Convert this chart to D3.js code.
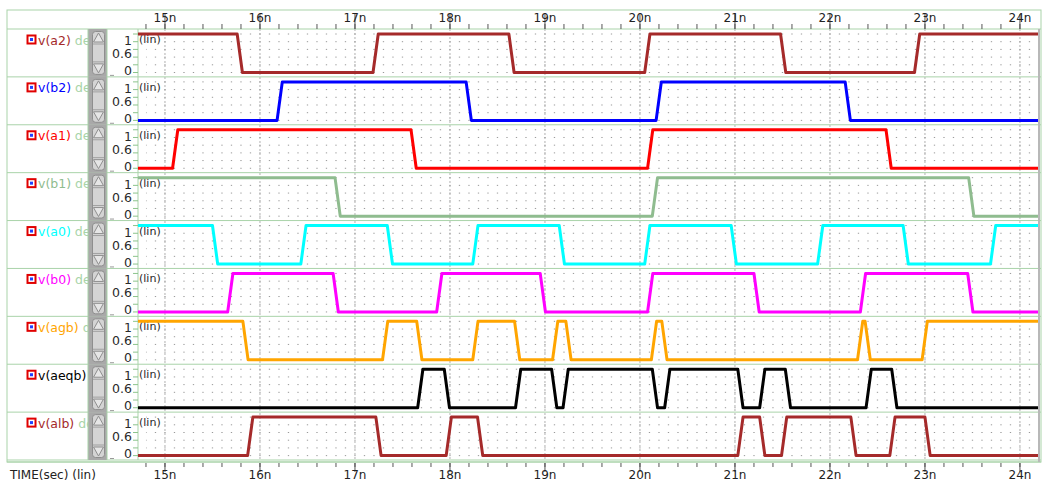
<!DOCTYPE html>
<html>
<head>
<meta charset="utf-8">
<script src="https://cdn.jsdelivr.net/npm/d3@7"></script>
<style>
  body { margin: 0; background: #fff; }
  text { font-family: 'DejaVu Sans', sans-serif; }
</style>
</head>
<body>
<div class="chart"></div>
<script>
// signal names, trace colours and the level each one starts at
const signals = ['v(a2)', 'v(b2)', 'v(a1)', 'v(b1)', 'v(a0)', 'v(b0)', 'v(agb)', 'v(aeqb)', 'v(alb)'];
const colors = ['#a52a2a', '#0000ff', '#ff0000', '#8fbc8f', '#00ffff', '#ff00ff', '#ffa500', '#000000', '#a52a2a'];
const startLevels = [1, 0, 0, 1, 1, 0, 1, 0, 0];

// edge start times in ns, every edge flips the level
const edgesA2 = [15.76, 17.19, 18.62, 20.05, 21.48, 22.89];
const edgesB2 = [16.18, 18.17, 20.17, 22.16];
const edgesA1 = [15.08, 17.59, 20.08, 22.59];
const edgesB1 = [16.79, 20.13, 23.46];
const edgesA0 = [15.50, 16.43, 17.34, 18.24, 19.15, 20.05, 20.96, 21.87, 22.77, 23.69];
const edgesB0 = [15.66, 16.77, 17.86, 18.95, 20.08, 21.20, 22.32, 23.45];
const edgesAgb = [15.82, 17.29, 17.65, 18.24, 18.68, 19.08, 19.22, 20.12, 20.23, 22.29, 22.37, 22.97];
const edgesAeqb = [17.66, 17.94, 18.69, 19.07, 19.19, 20.13, 20.26, 21.03, 21.26, 21.53, 22.38, 22.65];
const edgesAlb = [15.87, 17.22, 17.96, 18.29, 21.03, 21.26, 21.49, 22.22, 22.63, 23.00];
const edges = [edgesA2, edgesB2, edgesA1, edgesB1, edgesA0, edgesB0, edgesAgb, edgesAeqb, edgesAlb];

const timeTicks = [15, 16, 17, 18, 19, 20, 21, 22, 23, 24];
const levelTicks = [0, 0.2, 0.4, 0.6, 0.8, 1];
const levelLabels = ['1', '0.6', '0'];
const timeDomain = [14.716, 24.19];

const W = 1045, H = 481;
const plotL = 138, plotR = 1038, plotT = 29, plotB = 460;
const edgeTime = 0.055;
const frame = '#a9d3a9';

const svg = d3.select('.chart')
  .append('svg')
    .attr('width', W)
    .attr('height', H);

const x = d3.scaleLinear().domain(timeDomain).range([plotL, plotR]);
const band = d3.scaleBand().domain(signals).range([plotT, plotB]);
const bh = band.bandwidth();

svg.append('clipPath').attr('id', 'plotclip')
  .append('rect').attr('x', plotL).attr('y', plotT).attr('width', plotR - plotL).attr('height', plotB - plotT);
svg.append('clipPath').attr('id', 'labelclip')
  .append('rect').attr('x', 8).attr('y', plotT).attr('width', 80).attr('height', plotB - plotT);

// outer frame and header
svg.append('rect')
  .attr('x', 7).attr('y', 10).attr('width', 1034).attr('height', 452)
  .attr('fill', 'none').attr('stroke', frame);
svg.append('line').attr('x1', 7).attr('x2', 1041).attr('y1', plotT).attr('y2', plotT).attr('stroke', frame);
svg.append('line').attr('x1', 7).attr('x2', 1041).attr('y1', 462).attr('y2', 462).attr('stroke', frame);

const grid = svg.append('g').attr('clip-path', 'url(#plotclip)');

// vertical dashed grid at each ns
grid.selectAll('.vgrid')
  .data(timeTicks)
  .enter()
  .append('line')
    .attr('x1', d => x(d)).attr('x2', d => x(d))
    .attr('y1', plotT).attr('y2', plotB)
    .attr('stroke', '#b0b0b0')
    .attr('stroke-dasharray', '2,2');

const panels = svg.selectAll('.panel')
  .data(signals)
  .enter()
  .append('g')
    .attr('class', 'panel')
    .attr('transform', d => `translate(0, ${band(d)})`);

const y = d3.scaleLinear().domain([0, 1]).range([43.5, 5]);

// dotted level rows
panels.selectAll('.hgrid')
  .data(levelTicks)
  .enter()
  .append('line')
    .attr('x1', x(14.8)).attr('x2', plotR)
    .attr('y1', d => y(d)).attr('y2', d => y(d))
    .attr('stroke', '#9a9a9a')
    .attr('stroke-dasharray', '1.3,8.2')
    .attr('stroke-dashoffset', 0.65);

// separators
panels.append('line')
  .attr('x1', 7).attr('x2', 1041)
  .attr('y1', bh).attr('y2', bh)
  .attr('stroke', frame);

// scroll bar column
panels.append('rect')
  .attr('x', 88).attr('y', 0).attr('width', 19).attr('height', bh)
  .attr('fill', '#a9a9a9');
panels.append('rect')
  .attr('x', 92.5).attr('y', 2.5).attr('width', 12).attr('height', bh - 5)
  .attr('rx', 3)
  .attr('fill', '#d4d4d4').attr('stroke', '#8e8e8e');
panels.append('path')
  .attr('d', 'M98.5,4 L93.5,13 L103.5,13 Z')
  .attr('fill', '#e6e6e6').attr('stroke', '#8e8e8e');
panels.append('path')
  .attr('d', `M98.5,${bh - 4} L93.5,${bh - 13} L103.5,${bh - 13} Z`)
  .attr('fill', '#e6e6e6').attr('stroke', '#8e8e8e');
panels.append('line')
  .attr('x1', 93).attr('x2', 104).attr('y1', 15).attr('y2', 15).attr('stroke', '#a0a0a0');
panels.append('line')
  .attr('x1', 93).attr('x2', 104).attr('y1', bh - 15).attr('y2', bh - 15).attr('stroke', '#a0a0a0');
panels.append('line')
  .attr('x1', 88).attr('x2', 88).attr('y1', 0).attr('y2', bh).attr('stroke', frame);
panels.append('line')
  .attr('x1', 107).attr('x2', 107).attr('y1', 0).attr('y2', bh).attr('stroke', frame);
panels.append('line')
  .attr('x1', plotL).attr('x2', plotL).attr('y1', 0).attr('y2', bh).attr('stroke', frame);
panels.append('line')
  .attr('x1', 110).attr('x2', 114).attr('y1', bh - 1.5).attr('y2', bh - 1.5).attr('stroke', '#9a9a9a');

// y ticks and labels
panels.selectAll('.ytick')
  .data(levelTicks)
  .enter()
  .append('line')
    .attr('x1', 133).attr('x2', plotL)
    .attr('y1', d => y(d)).attr('y2', d => y(d))
    .attr('stroke', '#8cc48c');
panels.selectAll('.ylabel')
  .data(levelLabels)
  .enter()
  .append('text')
    .attr('x', 132)
    .attr('y', (d, i) => [16, 29, 46][i])
    .attr('text-anchor', 'end')
    .attr('font-size', 12.5)
    .attr('fill', '#2a2a2a')
    .text(d => d);
panels.append('text')
  .attr('x', 139).attr('y', 14)
  .attr('font-size', 11)
  .attr('fill', '#2a2a2a')
  .text('(lin)');

// signal names
const names = svg.append('g').attr('clip-path', 'url(#labelclip)');
signals.forEach((s, i) => {
  const g = names.append('g').attr('transform', `translate(0, ${band(s)})`);
  g.append('rect')
    .attr('x', 27.5).attr('y', 6.5).attr('width', 8).attr('height', 8)
    .attr('fill', '#fff').attr('stroke', '#e00000').attr('stroke-width', 2);
  g.append('rect')
    .attr('x', 30).attr('y', 9).attr('width', 3).attr('height', 3)
    .attr('fill', '#2040ff');
  const t = g.append('text')
    .attr('x', 38).attr('y', 15.5)
    .attr('font-size', 12.5);
  t.append('tspan').attr('fill', colors[i]).text(s);
  t.append('tspan').attr('fill', '#a8d4a8').text(' de');
});

// waveforms
const line = d3.line()
  .x(d => x(d[0]))
  .y(d => y(d[1]));

const wavePoints = i => {
  let level = startLevels[i];
  const pts = [[timeDomain[0], level]];
  edges[i].forEach(e => {
    pts.push([e, level]);
    level = 1 - level;
    pts.push([e + edgeTime, level]);
  });
  pts.push([timeDomain[1], level]);
  return pts;
};

panels.append('path')
  .attr('d', (d, i) => line(wavePoints(i)))
  .attr('stroke', (d, i) => colors[i])
  .style('stroke-width', 3)
  .style('stroke-linejoin', 'round')
  .style('fill', 'none');

// plot right edge
svg.append('line').attr('x1', plotR + 1).attr('x2', plotR + 1).attr('y1', plotT).attr('y2', 462)
  .attr('stroke', '#b8b8b8').attr('stroke-width', 2);

// time axes, top and bottom
const minorTicks = d3.range(14.8, 24.2, 0.2).map(v => +v.toFixed(1));

const topAxis = svg.append('g');
topAxis.selectAll('.tmin')
  .data(minorTicks)
  .enter()
  .append('line')
    .attr('x1', d => x(d)).attr('x2', d => x(d))
    .attr('y1', 24).attr('y2', plotT)
    .attr('stroke', '#555');
topAxis.selectAll('.tmaj')
  .data(timeTicks)
  .enter()
  .append('line')
    .attr('x1', d => x(d)).attr('x2', d => x(d))
    .attr('y1', 14).attr('y2', plotT)
    .attr('stroke', '#555');
topAxis.selectAll('.tlab')
  .data(timeTicks)
  .enter()
  .append('text')
    .attr('x', d => x(d)).attr('y', 22)
    .attr('text-anchor', 'middle')
    .attr('font-size', 12)
    .attr('fill', '#222')
    .text(d => `${d}n`);

const bottomAxis = svg.append('g');
bottomAxis.selectAll('.bmin')
  .data(minorTicks)
  .enter()
  .append('line')
    .attr('x1', d => x(d)).attr('x2', d => x(d))
    .attr('y1', 463).attr('y2', 467)
    .attr('stroke', '#555');
bottomAxis.selectAll('.bmaj')
  .data(timeTicks)
  .enter()
  .append('line')
    .attr('x1', d => x(d)).attr('x2', d => x(d))
    .attr('y1', 463).attr('y2', 472)
    .attr('stroke', '#555');
bottomAxis.selectAll('.blab')
  .data(timeTicks)
  .enter()
  .append('text')
    .attr('x', d => x(d)).attr('y', 479)
    .attr('text-anchor', 'middle')
    .attr('font-size', 12)
    .attr('fill', '#222')
    .text(d => `${d}n`);
svg.append('text')
  .attr('x', 10).attr('y', 479)
  .attr('font-size', 12)
  .attr('fill', '#222')
  .text('TIME(sec) (lin)');
</script>
</body>
</html>
